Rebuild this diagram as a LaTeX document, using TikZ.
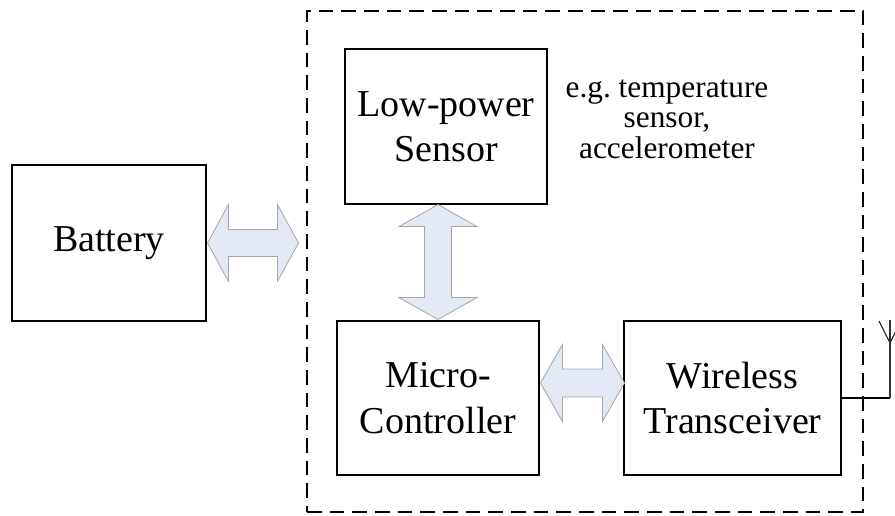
\documentclass[tikz,border=0pt]{standalone}
\usepackage{fontspec}
\setmainfont{Liberation Serif}
\usetikzlibrary{calc}
\definecolor{arrowfill}{RGB}{226,233,244}

\begin{document}
\begin{tikzpicture}[
    x=0.75pt, y=-0.75pt,
    font=\fontsize{28.5}{34}\selectfont,
    blok/.style={
        draw=black, fill=white, line width=2.2pt,
        align=center, inner sep=0pt
    },
    busframe/.style={draw=black, line width=1.5pt, dash pattern=on 11pt off 6pt},
    fatarrow/.style={draw=gray!70, fill=arrowfill, line width=0.6pt, line join=miter},
    antline/.style={draw=black, line width=2.2pt},
    antthin/.style={draw=black!80, line width=0.9pt}
]

\useasboundingbox (0,0) rectangle (895,515);

%% -- Ohranicenie uzla ------------------------------------------------
\node[busframe, minimum width=556*0.75pt, minimum height=501*0.75pt] (bus) at (585,261.5) {};

%% -- Bloky ----------------------------------------------------------
\node[blok, minimum width=194*0.75pt, minimum height=156*0.75pt] (bat) at (109,243) {Battery};
\node[blok, minimum width=202*0.75pt, minimum height=155*0.75pt] (sens) at (446,126.5) {Low-power\\Sensor};
\node[blok, minimum width=202*0.75pt, minimum height=154*0.75pt] (mcu) at (438,398) {Micro-\\Controller};
\node[blok, minimum width=217*0.75pt, minimum height=154*0.75pt] (wtx) at (732.5,398) {Wireless\\Transceiver};

%% -- Sipky ----------------------------------------------------------
\draw[fatarrow] (bat.east) -- ++(21,-38.5) -- ++(0,25) -- ++(49,0) -- ++(0,-25)
    -- ++(21,38.5) -- ++(-21,38.5) -- ++(0,-25) -- ++(-49,0) -- ++(0,25) -- cycle;
\draw[fatarrow] (mcu.north) -- ++(39,-22) -- ++(-25.5,0) -- ++(0,-71) -- ++(25.5,0)
    -- ++(-39,-22) -- ++(-39,22) -- ++(25.5,0) -- ++(0,71) -- ++(-25.5,0) -- cycle;
\draw[fatarrow] ($(mcu.east)+(0,-15)$) -- ++(22,-38.5) -- ++(0,24.5) -- ++(40,0) -- ++(0,-24.5)
    -- ++(22,38.5) -- ++(-22,38.5) -- ++(0,-24.5) -- ++(-40,0) -- ++(0,24.5) -- cycle;

%% -- Poznamka -------------------------------------------------------
\node[font=\fontsize{23.5}{23}\selectfont, align=center] (note) at (667,119)
    {e.g.\ temperature\\sensor,\\accelerometer};

%% -- Antena ---------------------------------------------------------
\coordinate (antfoot) at (890,398);
\coordinate (anttop) at (890,320);
\coordinate (antv) at (890,343);
\draw[antline] (wtx.east) -- (antfoot);
\draw[antthin] (antfoot) -- (anttop);
\draw[antthin] (antv) -- ++(-11,-22);
\draw[antthin] (antv) -- ++(11,-22);

\end{tikzpicture}
\end{document}
